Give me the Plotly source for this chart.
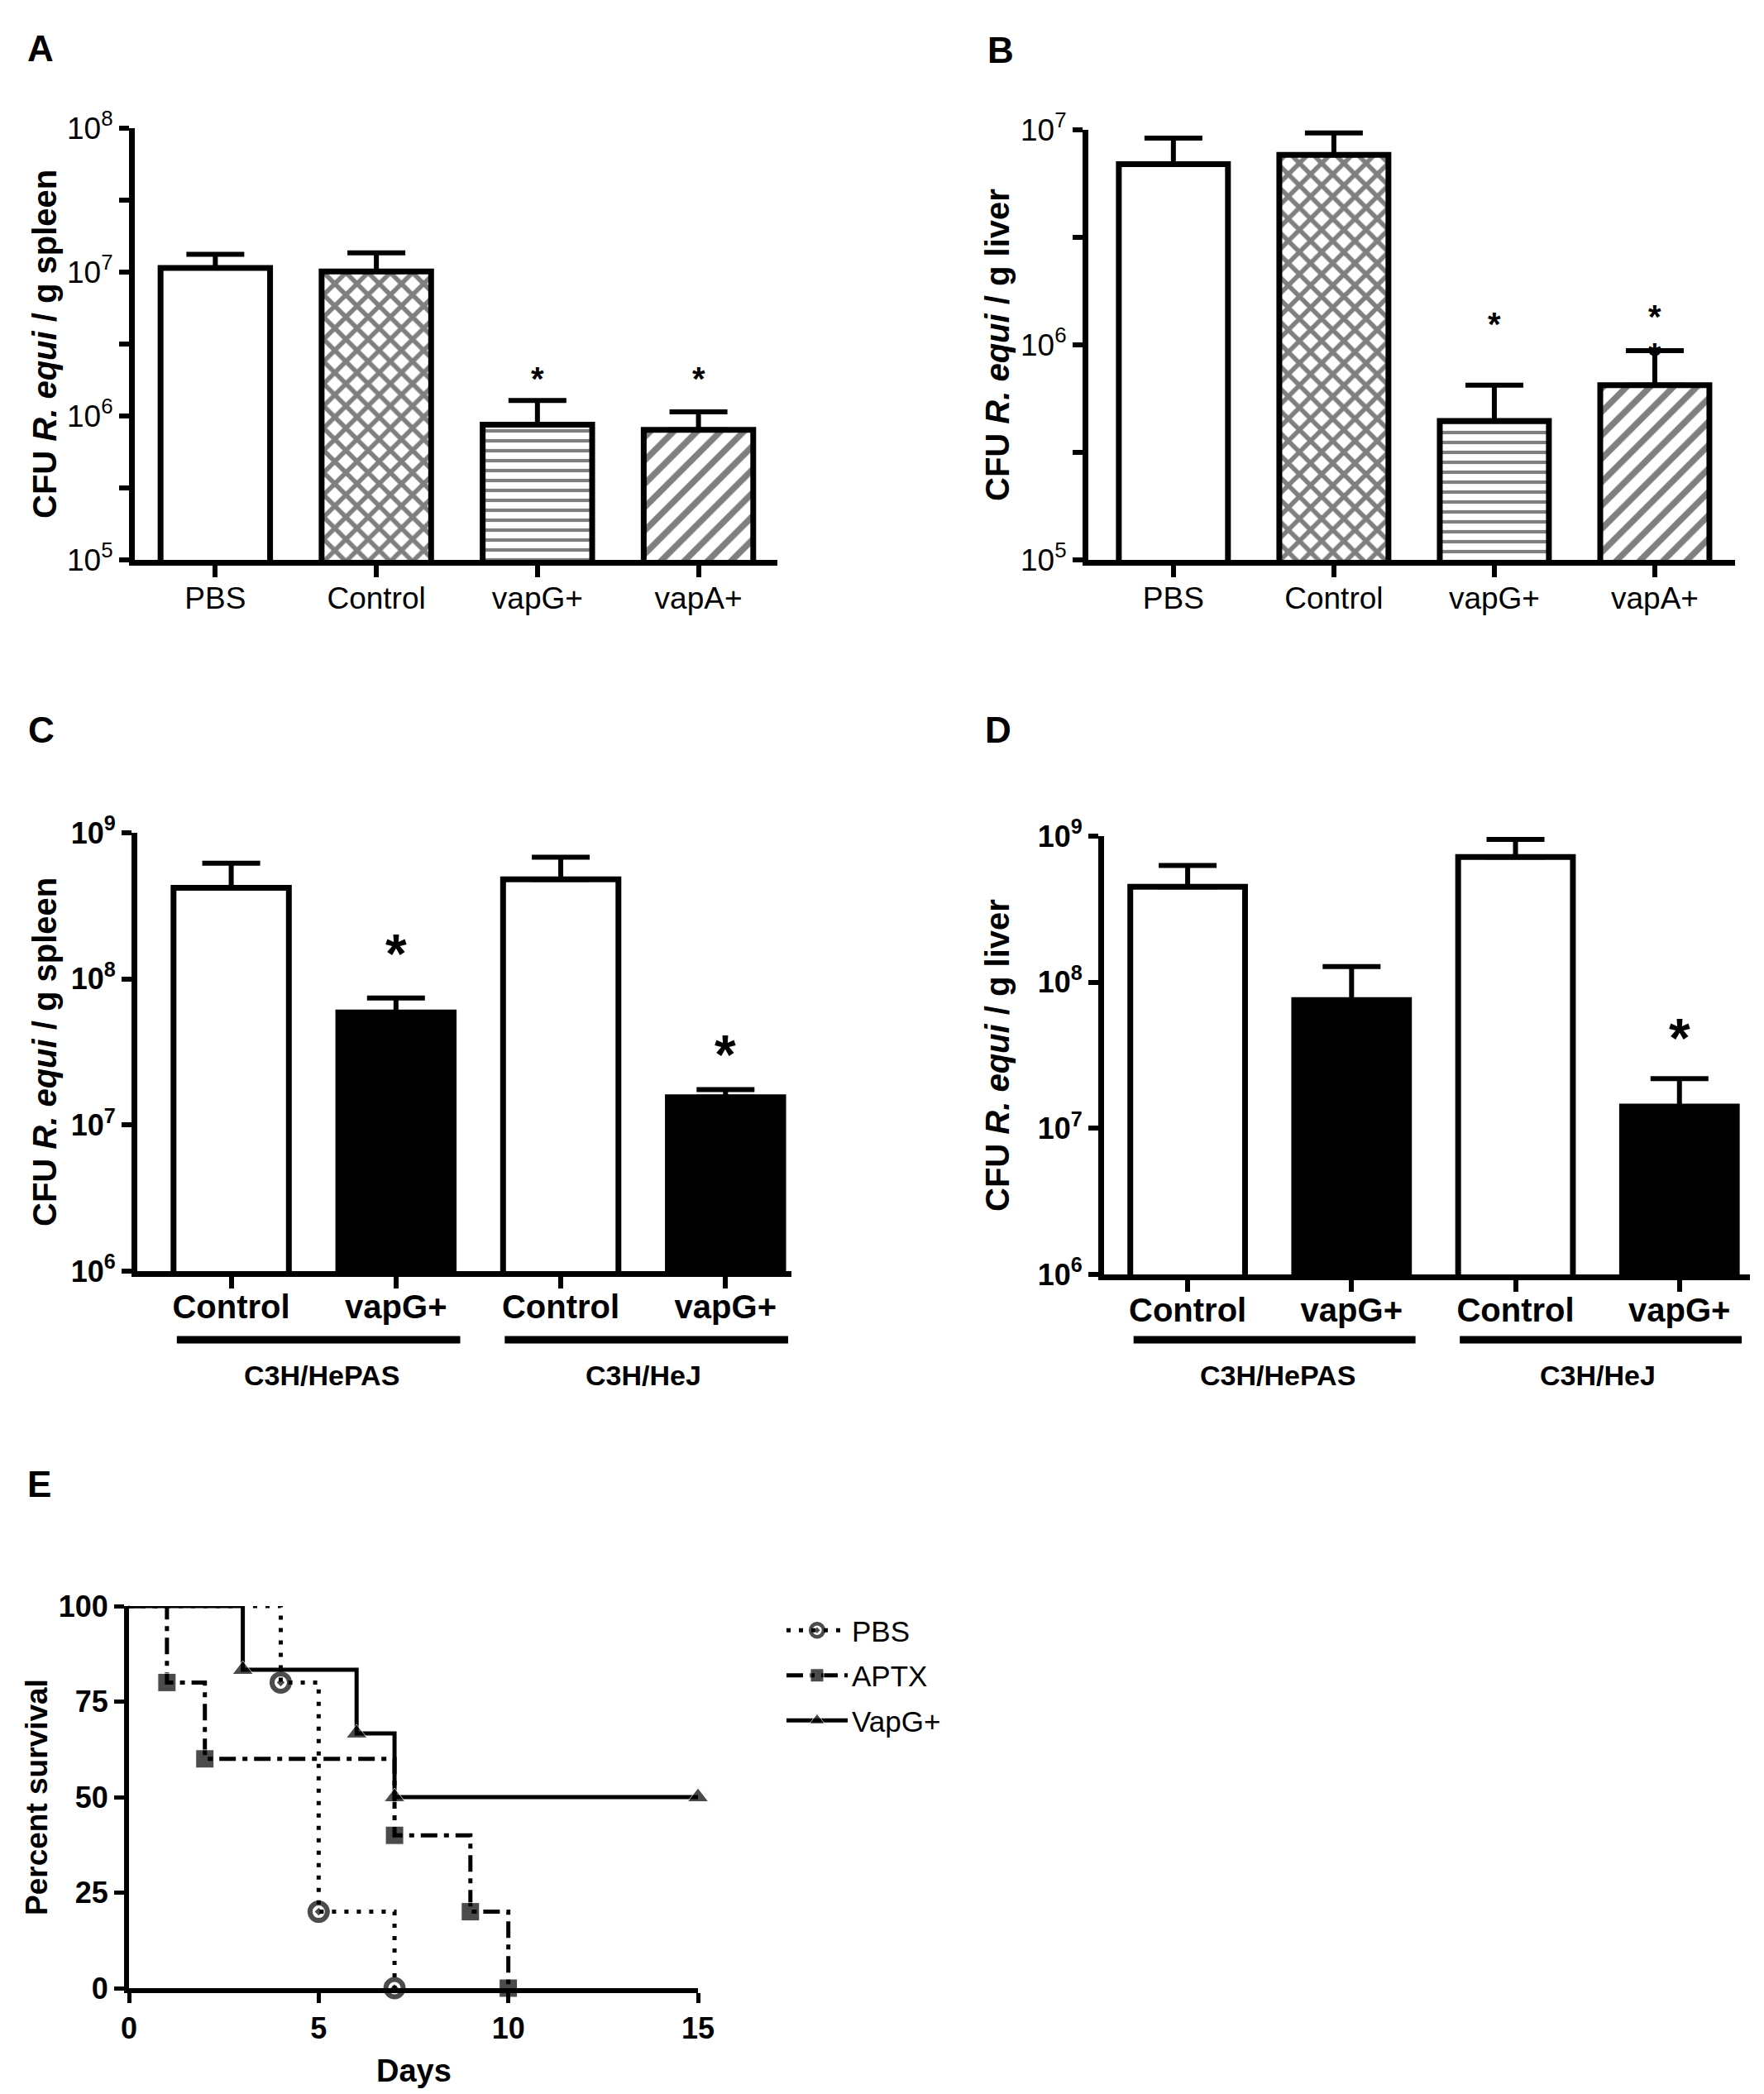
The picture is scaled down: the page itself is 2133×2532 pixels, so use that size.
import plotly.graph_objects as go

W, H = 2133, 2532
OFF_X, OFF_Y = 4, 8  # page offset seen in the screenshot

# ---- data ----
cats_ab = ["PBS", "Control", "vapG+", "vapA+"]
patterns_ab = ["", "x", "-", "/"]

spleen_ab = [1.07e7, 1.01e7, 8.7e5, 8.0e5]          # A: mean
spleen_ab_top = [1.33e7, 1.36e7, 1.28e6, 1.07e6]    # A: mean + SEM
liver_ab = [6.92e6, 7.65e6, 4.43e5, 6.5e5]          # B
liver_ab_top = [9.16e6, 9.68e6, 6.5e5, 9.4e5]

cats_cd = ["Control", "vapG+", "Control", "vapG+"]
strains = ["C3H/HePAS", "C3H/HeJ"]
colors_cd = ["white", "black", "white", "black"]

spleen_cd = [4.2e8, 5.9e7, 4.8e8, 1.55e7]           # C
spleen_cd_top = [6.2e8, 7.4e7, 6.8e8, 1.75e7]
liver_cd = [4.5e8, 7.55e7, 7.2e8, 1.41e7]           # D
liver_cd_top = [6.3e8, 1.28e8, 9.5e8, 2.19e7]

# significance stars: (bar index, log10 height)
stars_a = [(2, 6.29), (3, 6.29)]
stars_b = [(2, 6.115), (3, 6.15)]
stars_c = [(1, 8.22), (3, 7.53)]
stars_d = [(3, 7.67)]

# E: Kaplan-Meier survival
pbs_days = [0, 4, 5, 7]
pbs_surv = [100, 80, 20, 0]
aptx_days = [0, 1, 2, 7, 9, 10]
aptx_surv = [100, 80, 60, 40, 20, 0]
vapg_days = [0, 3, 6, 7, 15]
vapg_surv = [100, 83.33, 66.67, 50, 50]

FONT = "Liberation Sans, Arial, sans-serif"
NARROW = "Liberation Sans Narrow, Arial Narrow, Liberation Sans, Arial, sans-serif"


def px(a):
    return (a - OFF_X) / W


def py(a):
    return 1 - (a - OFF_Y) / H


def xd(a, b):
    return [px(a), px(b)]


def yd(top, bottom):
    return [py(bottom), py(top)]


fig = go.Figure()


def add_bars(i, vals, tops, width, colors=None, patterns=None):
    xs = list(range(len(vals)))
    err = [t - v for t, v in zip(tops, vals)]
    marker = dict(color=colors or "white", line=dict(color="black", width=7))
    if patterns:
        marker["pattern"] = dict(shape=patterns, fgcolor="black", bgcolor="white",
                                 size=[18, 19, 12, 20], solidity=[0.3, 0.5, 0.35, 0.38],
                                 fillmode="overlay")
    fig.add_trace(go.Bar(
        x=xs, y=vals, width=width, marker=marker, showlegend=False,
        error_y=dict(type="data", symmetric=False, array=err, arrayminus=[0] * len(vals),
                     thickness=6, width=35, color="black"),
        xaxis=f"x{i}", yaxis=f"y{i}",
    ))


add_bars(1, spleen_ab, spleen_ab_top, 0.68, patterns=patterns_ab)
add_bars(2, liver_ab, liver_ab_top, 0.68, patterns=patterns_ab)
add_bars(3, spleen_cd, spleen_cd_top, 0.70, colors=colors_cd)
add_bars(4, liver_cd, liver_cd_top, 0.70, colors=colors_cd)

# survival curves
fig.add_trace(go.Scatter(
    x=pbs_days, y=pbs_surv, name="PBS", mode="lines+markers", line_shape="hv",
    line=dict(color="black", width=5, dash="5px,10px"),
    marker=dict(symbol="circle-open-dot", size=[0, 21, 21, 21], color="black",
                line=dict(color="black", width=[0, 6, 6, 6])),
    cliponaxis=False, xaxis="x5", yaxis="y5", legendgroup="a",
))
fig.add_trace(go.Scatter(
    x=aptx_days, y=aptx_surv, name="APTX", mode="lines+markers", line_shape="hv",
    line=dict(color="black", width=5, dash="20px,8px,6px,8px"),
    marker=dict(symbol="square", size=[0, 22, 22, 22, 22, 22], color="black"),
    cliponaxis=False, xaxis="x5", yaxis="y5", legendgroup="b",
))
fig.add_trace(go.Scatter(
    x=vapg_days, y=vapg_surv, name="VapG+", mode="lines+markers", line_shape="hv",
    line=dict(color="black", width=5),
    marker=dict(symbol="triangle-up", size=[0, 22, 22, 22, 22], color="black"),
    cliponaxis=False, xaxis="x5", yaxis="y5", legendgroup="c",
))

axis_common = dict(showline=True, linecolor="black", linewidth=7, ticks="outside",
                   ticklen=14, tickwidth=6, tickcolor="black", showgrid=False,
                   zeroline=False, automargin=False)


def log_ticks(lo, hi, minor):
    vals, text = [], []
    for e in range(lo, hi + 1):
        vals.append(10 ** e)
        text.append(f"10<sup>{e}</sup>")
        if minor and e < hi:
            vals.append(10 ** (e + 0.5))
            text.append("")
    return vals, text


layout = dict(width=W, height=H, autosize=False,
              margin=dict(l=0, r=0, t=0, b=0, pad=0, autoexpand=False),
              paper_bgcolor="white", plot_bgcolor="white",
              font=dict(family=FONT, color="black"), bargap=0.3)

panels = [
    # x px, y px, log range, x range, categories, bold, minor
    (1, (159, 936), (155, 677), (5, 8), [-0.5, 3.49], cats_ab, False, True),
    (2, (1312, 2094), (157, 677), (5, 7), [-0.53, 3.5], cats_ab, False, True),
    (3, (162, 953), (1007, 1537), (6, 9), [-0.57, 3.4], cats_cd, True, False),
    (4, (1331, 2112), (1011, 1541), (6, 9), [-0.51, 3.43], cats_cd, True, False),
]
for i, xp, yp, lr, xr, cats, bold, minor in panels:
    tv, tt = log_ticks(lr[0], lr[1], minor)
    weight = "bold" if bold else "normal"
    layout[f"xaxis{i}"] = dict(axis_common, domain=xd(*xp), anchor=f"y{i}", range=xr,
                               tickvals=list(range(len(cats))), ticktext=cats,
                               ticklabelstandoff=-12 if bold else -6,
                               tickfont=dict(size=40 if bold else 37, weight=weight))
    layout[f"yaxis{i}"] = dict(axis_common, domain=yd(*yp), anchor=f"x{i}", type="log",
                               range=list(lr), tickvals=tv, ticktext=tt, ticklen=12,
                               tickfont=dict(size=36 if bold else 37, weight=weight))

layout["xaxis5"] = dict(axis_common, domain=xd(152, 840), anchor="y5", range=[0, 15],
                        tickvals=[0, 5, 10, 15], ticklen=12, tickwidth=5, linewidth=6,
                        tickfont=dict(family=NARROW, size=36, weight="bold"))
layout["yaxis5"] = dict(axis_common, domain=yd(1942, 2404), anchor="x5", range=[0, 100],
                        tickvals=[0, 25, 50, 75, 100], ticklen=12, tickwidth=5, linewidth=6,
                        tickfont=dict(family=NARROW, size=36, weight="bold"))
layout["legend"] = dict(x=px(942), y=py(1942), xanchor="left", yanchor="top",
                        font=dict(size=35), tracegroupgap=6, bgcolor="rgba(0,0,0,0)",
                        itemwidth=74, itemsizing="trace")
fig.update_layout(**layout)

ann = []
# panel letters
for txt, x, y in [("A", 27, 58), ("B", 1188, 60), ("C", 28, 882), ("D", 1185, 882), ("E", 27, 1795)]:
    ann.append(dict(text=f"<b>{txt}</b>", x=px(x), y=py(y), xref="paper", yref="paper",
                    xanchor="left", yanchor="middle", showarrow=False, font=dict(size=44)))
# y titles
for txt, x, y in [("CFU <i>R. equi</i> / g spleen", 50, 416),
                  ("CFU <i>R. equi</i> / g liver", 1202, 417),
                  ("CFU <i>R. equi</i> / g spleen", 50, 1272),
                  ("CFU <i>R. equi</i> / g liver", 1202, 1276),
                  ("Percent survival", 40, 2173)]:
    ann.append(dict(text=f"<b>{txt}</b>", x=px(x), y=py(y), xref="paper", yref="paper",
                    xanchor="center", yanchor="middle", textangle=-90, showarrow=False,
                    font=dict(size=37 if txt.startswith("Percent") else 40)))
ann.append(dict(text="<b>Days</b>", x=px(496), y=py(2504), xref="paper", yref="paper",
                xanchor="center", yanchor="middle", showarrow=False, font=dict(size=38)))

# stars
for i, stars, size in [(1, stars_a, 40), (2, stars_b, 40), (3, stars_c, 66), (4, stars_d, 66)]:
    for idx, ly in stars:
        ann.append(dict(text="<b>*</b>", x=idx, y=ly, xref=f"x{i}", yref=f"y{i}",
                        xanchor="center", yanchor="middle", showarrow=False,
                        font=dict(size=size), yshift=-0.13 * size))
# half-hidden star at vapA+ cap in B
ann.append(dict(text="<b>*</b>", x=3, y=5.975, xref="x2", yref="y2", showarrow=False,
                xanchor="center", yanchor="middle", font=dict(size=40), yshift=-5))

# strain group lines and labels for C and D
shapes = []
for i in (3, 4):
    for (a, b), name, cx in zip([(-0.33, 1.39), (1.66, 3.38)], strains, [0.55, 2.5]):
        shapes.append(dict(type="line", xref=f"x{i}", yref="paper", x0=a, x1=b,
                           y0=py(1620), y1=py(1620),
                           line=dict(color="black", width=9)))
        ann.append(dict(text=f"<b>{name}</b>", x=cx, y=py(1663), xref=f"x{i}",
                        yref="paper", xanchor="center", yanchor="middle", showarrow=False,
                        font=dict(size=34)))

fig.update_layout(annotations=ann, shapes=shapes)
fig.write_html("out.html")
